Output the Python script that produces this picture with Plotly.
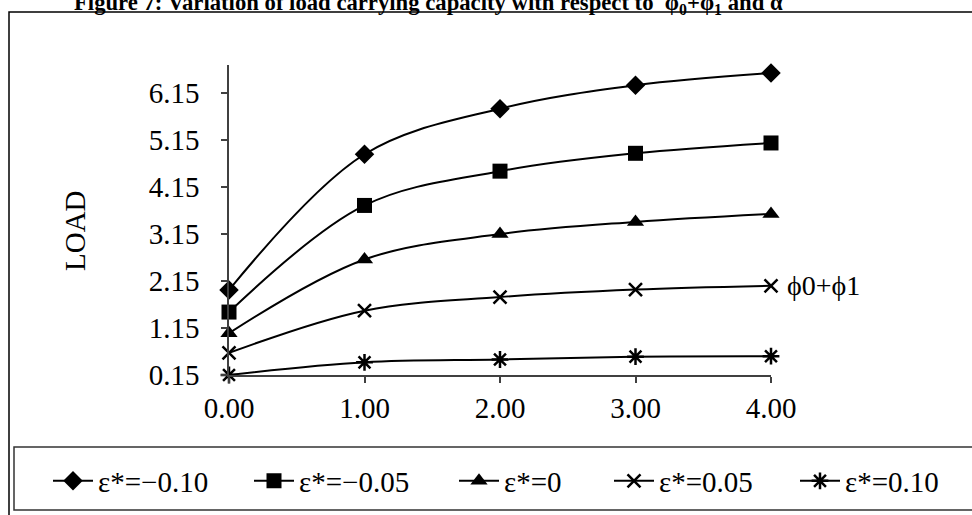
import plotly.graph_objects as go

# phi0 + phi1 values on the horizontal axis
phi_sum = [0.0, 1.0, 2.0, 3.0, 4.0]

# Load carrying capacity for each eccentricity value
load_eps_m010 = [1.96, 4.85, 5.82, 6.32, 6.58]
load_eps_m005 = [1.49, 3.76, 4.49, 4.87, 5.09]
load_eps_0 = [1.04, 2.61, 3.15, 3.41, 3.58]
load_eps_p005 = [0.62, 1.52, 1.81, 1.97, 2.05]
load_eps_p010 = [0.15, 0.42, 0.48, 0.54, 0.55]

series_names = ["ε*=−0.10", "ε*=−0.05", "ε*=0", "ε*=0.05", "ε*=0.10"]
y_ticks = [0.15, 1.15, 2.15, 3.15, 4.15, 5.15, 6.15]
x_ticks = [0.0, 1.0, 2.0, 3.0, 4.0]

FONT = "Liberation Serif, Times New Roman, serif"

marker_styles = [
    dict(symbol="diamond", size=15, color="black"),
    dict(symbol="square", size=15, color="black"),
    dict(symbol="triangle-up", size=15, color="black"),
    dict(symbol="x-thin-open", size=13, color="black", line=dict(width=2.5, color="black")),
    dict(symbol="asterisk-open", size=14, color="black", line=dict(width=2.5, color="black")),
]

all_series = [load_eps_m010, load_eps_m005, load_eps_0, load_eps_p005, load_eps_p010]

# Plot-area geometry in pixels
W, H = 972, 515
L, R, T, B = 229, 201, 65, 140
pw, ph = W - L - R, H - T - B


def px_x(p):
    return (p - L) / pw


def px_y(p):
    return (H - B - p) / ph


# Each legend entry gets its own legend box so the row can span the full frame
legend_ids = ["legend", "legend2", "legend3", "legend4", "legend5"]
legend_left_px = [48, 249, 454, 609, 795]

fig = go.Figure()
for name, values, mk, lid in zip(series_names, all_series, marker_styles, legend_ids):
    fig.add_trace(go.Scatter(
        x=phi_sum, y=values, name=name, mode="lines+markers", legend=lid,
        line=dict(color="black", width=2, shape="spline", smoothing=1.0),
        marker=mk, cliponaxis=False,
    ))

shapes = [
    # outer frame
    dict(type="rect", xref="paper", yref="paper",
         x0=px_x(9), x1=px_x(990), y0=px_y(530), y1=px_y(12),
         line=dict(color="black", width=1.5), fillcolor="rgba(0,0,0,0)", layer="below"),
    # legend frame
    dict(type="rect", xref="paper", yref="paper",
         x0=px_x(14), x1=px_x(990), y0=px_y(510), y1=px_y(447),
         line=dict(color="#333333", width=1.5), fillcolor="rgba(0,0,0,0)", layer="below"),
]

annotations = [
    dict(text="<b>Figure 7: Variation of load carrying capacity with respect to  φ<sub>0</sub>+φ<sub>1</sub> and α</b>",
         xref="paper", yref="paper", x=px_x(428), y=px_y(20), xanchor="center", yanchor="bottom",
         showarrow=False, font=dict(family=FONT, size=22.7, color="black")),
    dict(text="ϕ0+ϕ1", xref="x", yref="y", x=phi_sum[-1], y=load_eps_p005[-1],
         xanchor="left", yanchor="middle", xshift=14, showarrow=False,
         font=dict(family=FONT, size=28, color="black")),
    dict(text="LOAD", xref="paper", yref="paper", x=px_x(75), y=px_y(231),
         xanchor="center", yanchor="middle", textangle=-90, showarrow=False,
         font=dict(family=FONT, size=29, color="black")),
]

layout_legends = {}
for lid, left in zip(legend_ids, legend_left_px):
    layout_legends[lid] = dict(
        orientation="h", x=px_x(left), y=px_y(481), xanchor="left", yanchor="middle",
        font=dict(family=FONT, size=29, color="black"),
        bgcolor="rgba(0,0,0,0)", borderwidth=0, itemwidth=40,
    )

fig.update_layout(
    width=W, height=H,
    margin=dict(l=L, r=R, t=T, b=B, autoexpand=False),
    paper_bgcolor="white", plot_bgcolor="white",
    font=dict(family=FONT, size=28, color="black"),
    showlegend=True,
    shapes=shapes,
    annotations=annotations,
    **layout_legends,
)

fig.update_xaxes(
    range=[0, 4], tickvals=x_ticks, tickformat=".2f",
    showgrid=False, zeroline=False, showline=True, linecolor="#404040", linewidth=1.5,
    ticks="outside", ticklen=6, tickcolor="#404040", tickwidth=1.5,
    tickfont=dict(family=FONT, size=29, color="black"),
)
fig.update_yaxes(
    range=[0.15, 6.75], tickvals=y_ticks, tickformat=".2f",
    showgrid=False, zeroline=False, showline=True, linecolor="#404040", linewidth=1.5,
    ticks="outside", ticklen=6, tickcolor="#404040", tickwidth=1.5,
    tickfont=dict(family=FONT, size=29, color="black"),
    ticklabelstandoff=16,
)

fig.write_html("out.html")
